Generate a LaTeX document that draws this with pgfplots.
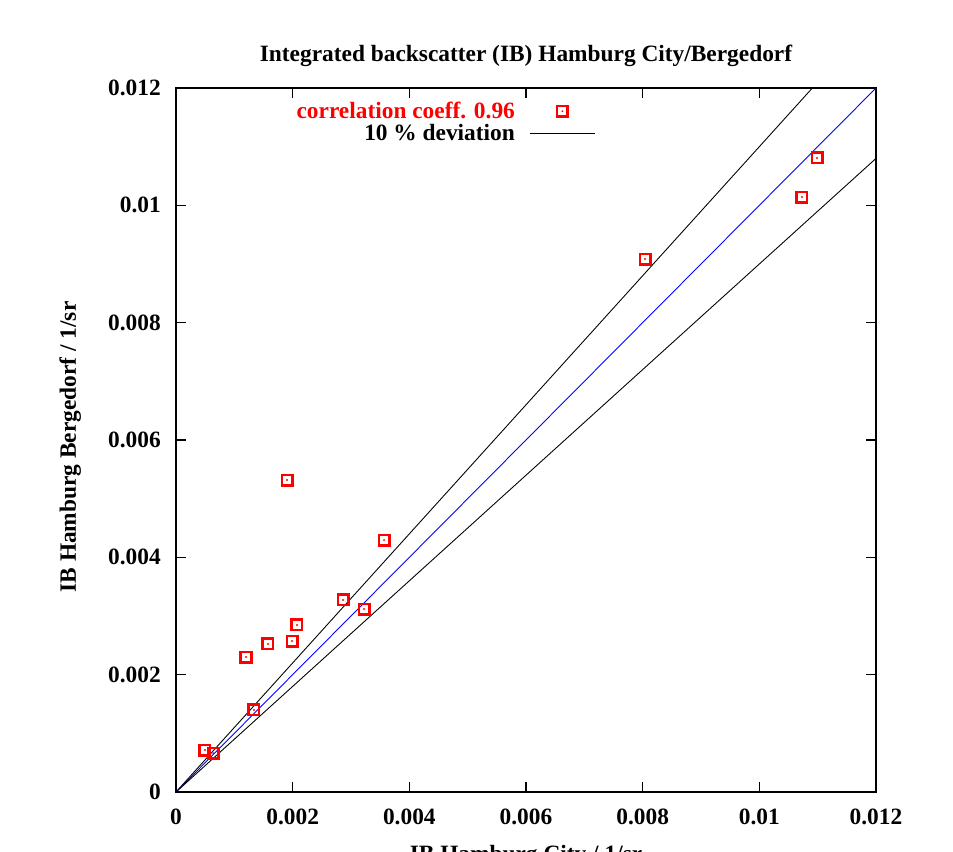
\documentclass[border=0pt]{standalone}
\usepackage{fontspec}
\setmainfont{Liberation Serif}
\usepackage{pgfplots}
\pgfplotsset{compat=1.18}
\pgfdeclareplotmark{sqdot}{%
  \pgfpathrectangle{\pgfpoint{-\pgfplotmarksize}{-\pgfplotmarksize}}{\pgfpoint{2\pgfplotmarksize}{2\pgfplotmarksize}}%
  \pgfusepathqstroke
  \pgfpathcircle{\pgfpointorigin}{0.6pt}%
  \pgfusepathqfill}
\newcommand{\fnt}{\fontsize{13.3}{15}\selectfont\bfseries}
\begin{document}
\begin{tikzpicture}
\useasboundingbox (-3.52cm,-1.18cm) rectangle (15.54cm,15.84cm);
\begin{axis}[
  at={(0,0)}, anchor=south west,
  scale only axis, width=14cm, height=14.08cm,
  xmin=0, xmax=0.012, ymin=0, ymax=0.012,
  xtick={0,0.002,0.004,0.006,0.008,0.01,0.012},
  ytick={0,0.002,0.004,0.006,0.008,0.01,0.012},
  scaled ticks=false,
  tick align=inside, tick pos=both,
  major tick length=0.2cm,
  axis line style={line width=0.8pt},
  every tick/.style={black, line width=0.6pt},
  font=\fnt,
  ticklabel style={font=\fnt},
  /pgf/number format/assume math mode=true,
  /pgf/number format/fixed, /pgf/number format/precision=3,
  xticklabel style={yshift=-0.21cm},
  yticklabel style={xshift=-0.18cm},
  every axis title shift=0pt,
  title={Integrated backscatter (IB) Hamburg City/Bergedorf},
  title style={at={(axis description cs:0.5,1.0455)}, anchor=center, font=\fnt},
  xlabel={IB Hamburg City / 1/sr},
  xlabel style={at={(axis description cs:0.5,-0.099)}, anchor=base, font=\fnt},
  ylabel={IB Hamburg Bergedorf / 1/sr},
  ylabel style={at={(axis description cs:-0.151,0.49)}, anchor=center, font=\fnt},
  legend image code/.code={\draw[mark repeat=2,mark phase=2,#1] plot coordinates {(0cm,0cm) (0.65cm,0cm) (1.3cm,0cm)};},
  legend plot pos=right,
  legend cell align=right,
  legend style={draw=none, fill=none, at={(axis description cs:0.607,0.991)}, anchor=north east,
    font=\fnt, row sep=-2.2pt, column sep=0.22cm},
]
\addplot[only marks, mark=sqdot, mark size=3pt, draw=red, fill=red, line width=1.4pt] coordinates {
(0.000497,0.000716)
(0.000640,0.000660)
(0.001337,0.001398)
(0.001200,0.002301)
(0.001577,0.002523)
(0.001989,0.002574)
(0.002074,0.002847)
(0.001903,0.005318)
(0.002863,0.003273)
(0.003223,0.003119)
(0.003566,0.004295)
(0.008040,0.009085)
(0.010731,0.010142)
(0.010989,0.010807)
};
\addlegendentry{\textcolor{red}{correlation coeff. 0.96}}
\addplot[black, line width=0.5pt, no markers] coordinates {(0,0) (0.0109091,0.012)};
\addlegendentry{10 \% deviation}
\addplot[blue, line width=0.5pt, no markers, forget plot] coordinates {(0,0) (0.012,0.012)};
\addplot[black, line width=0.5pt, no markers, forget plot] coordinates {(0,0) (0.012,0.0108)};
\end{axis}
\end{tikzpicture}
\end{document}
